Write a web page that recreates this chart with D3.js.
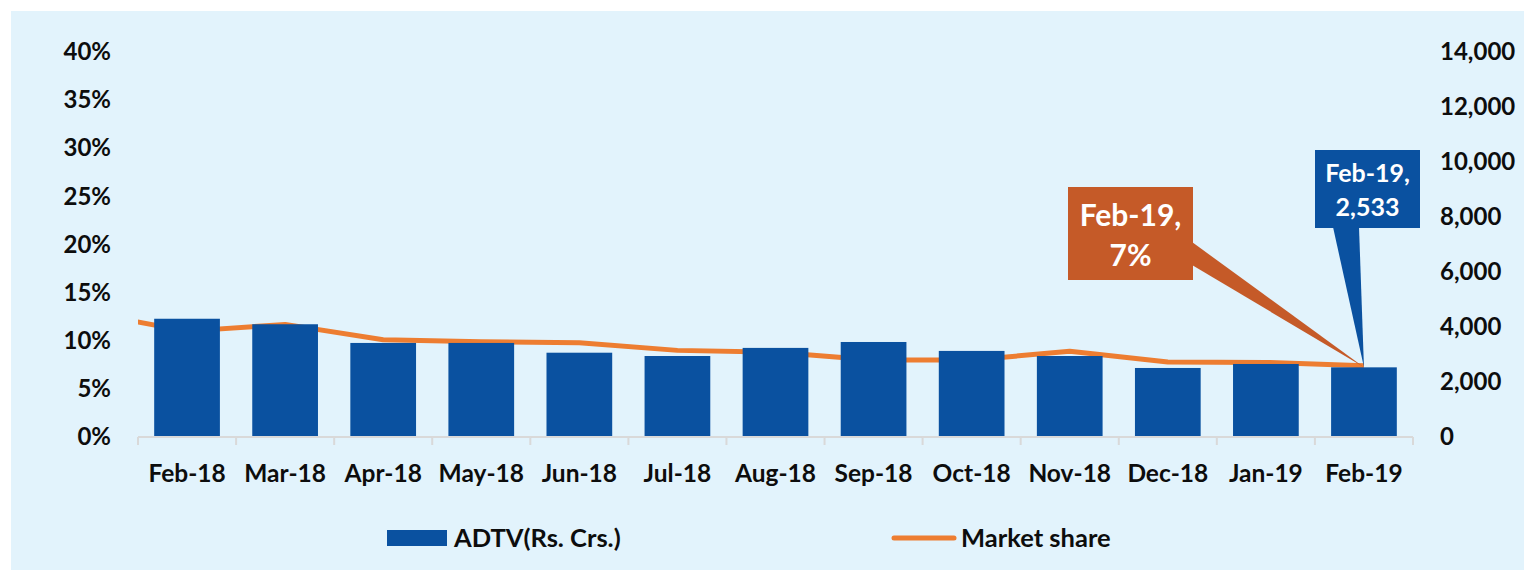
<!DOCTYPE html>
<html>
<head>
<meta charset="utf-8">
<script src="https://cdn.jsdelivr.net/npm/d3@7"></script>
<style>
  body { margin: 0; background: #fff; }
  text { font-family: Lato, "Open Sans", sans-serif; font-weight: bold; }
</style>
</head>
<body>
<svg width="1524" height="570"></svg>
<script>
const months = ['Feb-18', 'Mar-18', 'Apr-18', 'May-18', 'Jun-18', 'Jul-18', 'Aug-18',
	'Sep-18', 'Oct-18', 'Nov-18', 'Dec-18', 'Jan-19', 'Feb-19']
// ADTV (Rs. Crs.), right axis
const adtv = [4300, 4100, 3420, 3420, 3065, 2945, 3240, 3455, 3130, 2945, 2510, 2655, 2533]
// market share, left axis
const share = [0.110, 0.117, 0.101, 0.099, 0.098, 0.090, 0.088, 0.080, 0.080, 0.089, 0.078, 0.0775, 0.074]
// previous month (Jan-18), only the clipped lead-in of the line is visible
const shareLead = 0.129
const leftTicks = [0, 0.05, 0.10, 0.15, 0.20, 0.25, 0.30, 0.35, 0.40]
const rightTicks = [0, 2000, 4000, 6000, 8000, 10000, 12000, 14000]

const barColor = '#0A51A0'
const lineColor = '#ED7D31'
const calloutOrange = '#C55A28'

const svg = d3.select('svg')
const plot = {left: 138, right: 1413, top: 52, bottom: 437}

svg.append('rect')
	.attr('x', 11).attr('y', 11)
	.attr('width', 1513).attr('height', 559)
	.attr('fill', '#E2F3FC')

const x = d3.scaleBand()
	.domain(months)
	.range([plot.left, plot.right])
	.paddingInner(0.33)
	.paddingOuter(0.165)
const step = x.step()
const cx = m => x(m) + x.bandwidth() / 2

const yL = d3.scaleLinear().domain([0, 0.40]).range([plot.bottom, plot.top])
const yR = d3.scaleLinear().domain([0, 14000]).range([plot.bottom, plot.top])

// line goes under the bars
svg.append('clipPath').attr('id', 'clip')
	.append('rect')
	.attr('x', plot.left).attr('y', 0)
	.attr('width', plot.right - plot.left).attr('height', 570)

const linePts = [[cx(months[0]) - step, yL(shareLead)]]
	.concat(months.map((m, i) => [cx(m), yL(share[i])]))

svg.append('path')
	.attr('clip-path', 'url(#clip)')
	.attr('d', d3.line()(linePts))
	.attr('fill', 'none')
	.attr('stroke', lineColor)
	.attr('stroke-width', 5)
	.attr('stroke-linejoin', 'round')

svg.append('g')
	.selectAll('rect')
	.data(months)
	.join('rect')
	.attr('x', d => x(d))
	.attr('y', (d, i) => yR(adtv[i]))
	.attr('width', x.bandwidth())
	.attr('height', (d, i) => plot.bottom - yR(adtv[i]))
	.attr('fill', barColor)

// category axis line + ticks at band boundaries
const gx = svg.append('g')
gx.append('line')
	.attr('x1', plot.left).attr('x2', plot.right)
	.attr('y1', plot.bottom).attr('y2', plot.bottom)
	.attr('stroke', '#D9D9D9').attr('stroke-width', 2)
gx.selectAll('line.tk')
	.data(d3.range(months.length + 1))
	.join('line')
	.attr('class', 'tk')
	.attr('x1', i => plot.left + i * step).attr('x2', i => plot.left + i * step)
	.attr('y1', plot.bottom).attr('y2', plot.bottom + 8)
	.attr('stroke', '#D9D9D9').attr('stroke-width', 2)
gx.selectAll('text')
	.data(months)
	.join('text')
	.attr('x', d => cx(d))
	.attr('y', 473)
	.attr('dy', '0.35em')
	.attr('text-anchor', 'middle')
	.attr('font-size', 24.5)
	.attr('fill', '#0D0D0D')
	.text(d => d)

const axL = svg.append('g')
	.attr('transform', `translate(${plot.left},0)`)
	.call(d3.axisLeft(yL).tickValues(leftTicks).tickFormat(d3.format('.0%')).tickSize(0).tickPadding(27))
const axR = svg.append('g')
	.attr('transform', `translate(${plot.right},0)`)
	.call(d3.axisRight(yR).tickValues(rightTicks).tickFormat(d3.format(',')).tickSize(0).tickPadding(27))
;[axL, axR].forEach(g => {
	g.select('.domain').remove()
	g.selectAll('text')
		.attr('font-size', 24)
		.attr('font-family', 'Lato, sans-serif')
		.attr('font-weight', 'bold')
		.attr('fill', '#0D0D0D')
})

// callouts for the last point
const last = months.length - 1
const tip = [cx(months[last]), yR(adtv[last])]

const orangeBox = {x: 1068, y: 187, w: 125, h: 93}
svg.append('path')
	.attr('d', d3.line()([[orangeBox.x + orangeBox.w - 1, 242], [orangeBox.x + orangeBox.w - 1, 265], tip]))
	.attr('fill', calloutOrange)
svg.append('rect')
	.attr('x', orangeBox.x).attr('y', orangeBox.y)
	.attr('width', orangeBox.w).attr('height', orangeBox.h)
	.attr('fill', calloutOrange)
svg.append('text')
	.attr('x', orangeBox.x + orangeBox.w / 2).attr('y', 215).attr('dy', '0.35em')
	.attr('text-anchor', 'middle').attr('font-size', 30).attr('fill', '#fff')
	.text(months[last] + ',')
svg.append('text')
	.attr('x', orangeBox.x + orangeBox.w / 2).attr('y', 255).attr('dy', '0.35em')
	.attr('text-anchor', 'middle').attr('font-size', 30).attr('fill', '#fff')
	.text(d3.format('.0%')(share[last]))

const blueBox = {x: 1315, y: 150, w: 105, h: 78}
svg.append('path')
	.attr('d', d3.line()([[1333, blueBox.y + blueBox.h - 1], [1359, blueBox.y + blueBox.h - 1], tip]))
	.attr('fill', barColor)
svg.append('rect')
	.attr('x', blueBox.x).attr('y', blueBox.y)
	.attr('width', blueBox.w).attr('height', blueBox.h)
	.attr('fill', barColor)
svg.append('text')
	.attr('x', blueBox.x + blueBox.w / 2).attr('y', 173).attr('dy', '0.35em')
	.attr('text-anchor', 'middle').attr('font-size', 25).attr('fill', '#fff')
	.text(months[last] + ',')
svg.append('text')
	.attr('x', blueBox.x + blueBox.w / 2).attr('y', 207).attr('dy', '0.35em')
	.attr('text-anchor', 'middle').attr('font-size', 25).attr('fill', '#fff')
	.text(d3.format(',')(adtv[last]))

// legend
const lg = svg.append('g')
lg.append('rect')
	.attr('x', 387).attr('y', 530).attr('width', 60).attr('height', 16)
	.attr('fill', barColor)
lg.append('text')
	.attr('x', 454).attr('y', 538).attr('dy', '0.35em')
	.attr('font-size', 25.5).attr('fill', '#0D0D0D')
	.text('ADTV(Rs. Crs.)')
lg.append('line')
	.attr('x1', 894).attr('x2', 954).attr('y1', 538).attr('y2', 538)
	.attr('stroke', lineColor).attr('stroke-width', 5).attr('stroke-linecap', 'round')
lg.append('text')
	.attr('x', 961).attr('y', 538).attr('dy', '0.35em')
	.attr('font-size', 25.5).attr('fill', '#0D0D0D')
	.text('Market share')
</script>
</body>
</html>
